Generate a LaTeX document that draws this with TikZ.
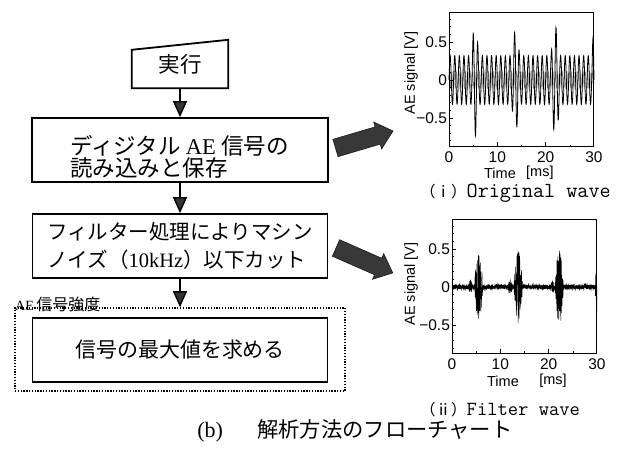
\documentclass[tikz,border=0pt]{standalone}
\usepackage{fontspec}
\setmainfont{Liberation Serif}
\newfontfamily\jp{Noto Sans CJK JP}
\newfontfamily\sansf{Liberation Sans}
\usetikzlibrary{arrows.meta,calc}
\tikzset{
  flowbox/.style={draw, line width=1.8pt, minimum width=296pt, minimum height=64pt, inner sep=0pt},
  boxtext/.style={inner sep=0pt, align=left},
  flowarrow/.style={line width=1.4pt, -{Triangle[length=16pt,width=14pt,fill=black!80]}},
  bigarrow/.style={fill=black!78, draw=black!90, line width=0.6pt},
  ticklab/.style={font=\sansf\fontsize{15.5}{15.5}\selectfont, inner sep=0pt},
  axlab/.style={font=\sansf\fontsize{14.5}{14.5}\selectfont, inner sep=0pt},
  axbox/.style={line width=1pt},
  tickline/.style={line width=0.6pt},
}
\begin{document}
\begin{tikzpicture}[x=1pt,y=-1pt]
\useasboundingbox (0,0) rectangle (627,449);

% ---------- flowchart ----------
\node[minimum width=96pt, minimum height=48pt, inner sep=0pt,
      font=\jp\fontsize{21.5}{22}\selectfont] (exec) at (180,64) {実行};
\draw[line width=1.8pt] (exec.south west) -- (exec.south east) -- (exec.north east)
      -- ($(exec.north west)+(0,10)$) -- cycle;

\node[flowbox] (read) at (180,150) {};
\node[boxtext, font=\jp\fontsize{22.5}{22.5}\selectfont] (readtext) at (179.5,157)
  {ディジタル {\rmfamily AE} 信号の\\読み込みと保存};

\node[flowbox, minimum width=295pt, align=left, font=\jp\fontsize{20.5}{28}\selectfont] (filter) at (180,246)
  {フィルター処理によりマシン\\ノイズ（{\rmfamily 10kHz}）以下カット};

\node[draw, line width=1.5pt, dash pattern=on 1.3pt off 1.5pt,
      minimum width=330pt, minimum height=83pt, inner sep=0pt] (aeframe) at (180,349.5) {};
\node[anchor=base west, inner sep=0pt] (aelabel) at (15,310.5)
  {{\rmfamily\fontsize{14}{14}\selectfont AE} {\jp\fontsize{16}{16}\selectfont 信号強度}};

\node[flowbox, minimum width=295pt, font=\jp\fontsize{21}{22}\selectfont] (maxval) at (180,350)
  {信号の最大値を求める};

\draw[flowarrow] (exec.south) -- (read.north);
\draw[flowarrow] (read.south) -- (filter.north);
\draw[flowarrow] (filter.south) -- (aeframe.north);

% ---------- big arrows ----------
\coordinate (a1s) at (335.5,148);
\coordinate (a2s) at (336,248);
\begin{scope}[shift={(a1s)}, rotate=16.5]
  \draw[bigarrow] (0,-9) -- (44,-9) -- (44,-14) -- (60,0) -- (44,14) -- (44,9) -- (0,9) -- cycle;
\end{scope}
\begin{scope}[shift={(a2s)}, rotate=-23.7]
  \draw[bigarrow] (0,-9) -- (46,-9) -- (46,-14) -- (62,0) -- (46,14) -- (46,9) -- (0,9) -- cycle;
\end{scope}

% ---------- plot 1 ----------
\begin{scope}[shift={(449,80)}, x=4.833pt, y=76pt]
  \draw[black!45, line width=0.5pt] plot[domain=0:30, samples=1000]
     (\x, {0.11*sin(360*frac(2.1*\x))});
  \draw[line width=0.8pt] plot[domain=0:30, samples=1000]
     (\x, {(0.32 + 0.42*max(0,1-(\x-5.4)*(\x-5.4)/0.49) + 0.33*max(0,1-(\x-13.8)*(\x-13.8)/0.64)
            + 0.38*max(0,1-(\x-22)*(\x-22)/0.81) + 0.33*max(0,1-(\x-30)*(\x-30)/0.16))*sin(360*frac(1.05*\x))});
  \draw[axbox] (0,-0.88) rectangle (30,0.89);
  \foreach \t in {5,15,25} \draw[tickline] (\t,-0.88) -- ++(0,0.03);
  \foreach \t in {10,20} \draw[tickline] (\t,-0.88) -- ++(0,0.06);
  \foreach \v in {-0.8,-0.7,-0.6,-0.4,-0.3,-0.2,-0.1,0.1,0.2,0.3,0.4,0.6,0.7,0.8}
     \draw[tickline] (0,\v) -- ++(0.4,0);
  \foreach \v in {-0.5,0,0.5} \draw[tickline] (0,\v) -- ++(0.9,0);
  \node[ticklab, anchor=east] (p1y1) at (-0.4,0.5) {0.5};
  \node[ticklab, anchor=east] (p1y2) at (-0.4,0) {0};
  \node[ticklab, anchor=east] (p1y3) at (-0.4,-0.5) {−0.5};
  \node[ticklab] (p1x0) at (0,-1.01) {0};
  \node[ticklab] (p1x1) at (10,-1.01) {10};
  \node[ticklab] (p1x2) at (20,-1.01) {20};
  \node[ticklab] (p1x3) at (30,-1.01) {30};
  \node[axlab] (p1time) at (10.55,-1.225) {Time};
  \node[axlab] (p1ms) at (18.8,-1.225) {[ms]};
  \node[axlab, rotate=90] (p1ylab) at (-7.86,0.092) {AE signal [V]};
\end{scope}
\node[anchor=west, inner sep=0pt] (cap1) at (420,193)
  {{\jp\fontsize{15.5}{16}\selectfont （ⅰ）}{\ttfamily\fontsize{21.5}{21.5}\selectfont Original wave}};

% ---------- plot 2 ----------
\pgfmathsetseed{42}
\begin{scope}[shift={(452,287)}, x=4.833pt, y=76pt]
  \draw[line width=0.5pt] plot[domain=0:30, samples=1500]
     (\x, {(0.03 + 0.42*max(0,1-(\x-5.5)*(\x-5.5)/0.8) + 0.45*max(0,1-(\x-13.7)*(\x-13.7)/0.8)
            + 0.47*max(0,1-(\x-22.2)*(\x-22.2)/0.8) + 0.4*max(0,1-(\x-29.95)*(\x-29.95)/0.1)
            + 0.07*max(0,1-(\x-3.8)*(\x-3.8)/0.2) + 0.07*max(0,1-(\x-12)*(\x-12)/0.2)
            + 0.07*max(0,1-(\x-20.8)*(\x-20.8)/0.2))*(2*rnd-1)});
  \draw[axbox] (0,-0.87) rectangle (30,0.89);
  \foreach \t in {5,15,25} \draw[tickline] (\t,-0.87) -- ++(0,0.03);
  \foreach \t in {10,20} \draw[tickline] (\t,-0.87) -- ++(0,0.06);
  \foreach \v in {-0.8,-0.7,-0.6,-0.4,-0.3,-0.2,-0.1,0.1,0.2,0.3,0.4,0.6,0.7,0.8}
     \draw[tickline] (0,\v) -- ++(0.4,0);
  \foreach \v in {-0.5,0,0.5} \draw[tickline] (0,\v) -- ++(0.9,0);
  \node[ticklab, anchor=east] (p2y1) at (-0.4,0.5) {0.5};
  \node[ticklab, anchor=east] (p2y2) at (-0.4,0) {0};
  \node[ticklab, anchor=east] (p2y3) at (-0.4,-0.5) {−0.5};
  \node[ticklab] (p2x0) at (0,-1.01) {0};
  \node[ticklab] (p2x1) at (10,-1.01) {10};
  \node[ticklab] (p2x2) at (20,-1.01) {20};
  \node[ticklab] (p2x3) at (30,-1.01) {30};
  \node[axlab] (p2time) at (10.55,-1.235) {Time};
  \node[axlab] (p2ms) at (20.9,-1.235) {[ms]};
  \node[axlab, rotate=90] (p2ylab) at (-8.48,0.04) {AE signal [V]};
\end{scope}
\node[anchor=west, inner sep=0pt] (cap2) at (420,410)
  {{\jp\fontsize{15.5}{16}\selectfont （ⅱ）}{\ttfamily\fontsize{20}{20}\selectfont Filter wave}};

% ---------- caption ----------
\node[anchor=west, inner sep=0pt] (capb) at (193,431)
  {\makebox[34pt][c]{\fontsize{22}{22}\selectfont (b)}\hspace{30pt}{\jp\fontsize{21.3}{22}\selectfont 解析方法のフローチャート}};
\end{tikzpicture}
\end{document}
